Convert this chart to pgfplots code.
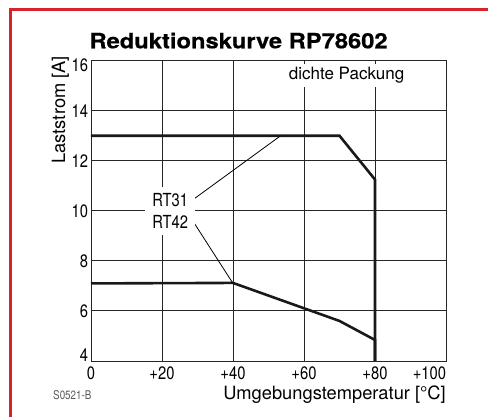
\documentclass[border=0pt]{standalone}
\usepackage{pgfplots}
\pgfplotsset{compat=1.18}
\usepackage{fontspec}
\setmainfont{TeX Gyre Heros}
\newfontfamily\condfont[FakeStretch=0.82]{TeX Gyre Heros}
\newfontfamily\titlefont[FakeStretch=1.13,FakeBold=0.6]{TeX Gyre Heros}
\definecolor{frame}{RGB}{214,36,42}
\begin{document}
\begin{tikzpicture}[x=1pt,y=1pt]
\begin{axis}[
  at={(91pt,56pt)}, anchor=south west,
  scale only axis, width=355pt, height=300.3pt,
  xmin=0, xmax=100, ymin=4, ymax=16,
  xtick={0,20,40,60,80,100},
  xticklabels={0,+20,+40,+60,+80,\llap{+100}},
  ytick={4,6,8,10,12,14,16},
  yticklabels={\raisebox{5.5pt}{4},6,8,10,12,14,\raisebox{-4.3pt}{16}},
  major tick length=0pt,
  grid=major,
  grid style={black!85, line width=0.9pt},
  axis line style={black!85, line width=0.9pt},
  ticklabel style={font=\condfont\fontsize{18}{18}\selectfont, inner sep=0pt},
  xticklabel style={anchor=north, yshift=-5.5pt},
  yticklabel style={anchor=base east, xshift=-2.7pt, yshift=-6.4pt},
  xlabel={Umgebungstemperatur [°C]},
  xlabel style={at={(axis description cs:1,-0.1275)}, anchor=base east, inner sep=0pt, font=\fontsize{18.3}{18}\selectfont},
  ylabel={Laststrom [A]},
  ylabel style={at={(axis description cs:-0.073,1.016)}, anchor=base east, inner sep=0pt, font=\fontsize{18.3}{18}\selectfont},
  title={Reduktionskurve RP78602},
  title style={at={(axis description cs:-0.0048,1.0213)}, anchor=base west, inner sep=0pt, font=\titlefont\bfseries\fontsize{21}{21}\selectfont},
]
\addplot[black!90, line width=2.6pt] coordinates {(0,13) (70,13) (80,11.25) (80,4)};
\addplot[black!90, line width=2.6pt] coordinates {(0,7.1) (40,7.12) (70,5.6) (80,4.84) (80,4)};
\addplot[black, line width=0.8pt] coordinates {(28.75,10.45) (53.4,13)};
\addplot[black, line width=0.8pt] coordinates {(28.8,9.57) (40,7.1)};
\node[fill=white, align=center, font=\condfont\fontsize{18}{21.7}\selectfont, inner xsep=7pt, inner ysep=6.3pt] at (axis cs:22.3,10) {RT31\\RT42};
\node[fill=white, anchor=base, font=\fontsize{17}{17}\selectfont, inner xsep=4pt, inner ysep=3.5pt] at (axis cs:72,15.25) {dichte Packung};
\end{axis}
\node[anchor=base west, inner sep=0pt, text=black!65, font=\condfont\fontsize{12}{12}\selectfont] at (53,17) {S0521-B};
\draw[frame, line width=3pt] (10.5,0) -- (10.5,407.5) -- (488,407.5);
\pgfresetboundingbox
\path (0,0) rectangle (488,417);
\end{tikzpicture}
\end{document}
